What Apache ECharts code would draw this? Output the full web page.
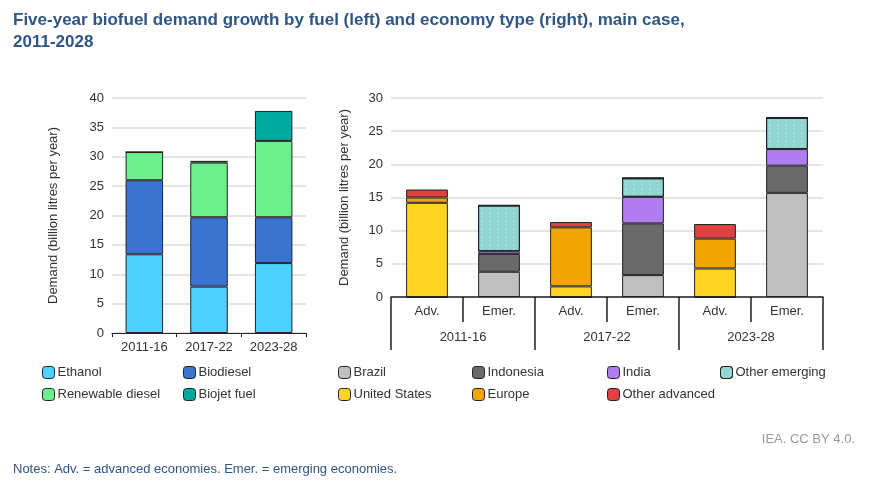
<!DOCTYPE html>
<html><head><meta charset="utf-8">
<script src="https://cdn.jsdelivr.net/npm/echarts@6/dist/echarts.min.js"></script>
<style>html,body{margin:0;background:#fff}#c{width:874px;height:482px}</style>
</head><body><div id="c"></div>
<script>
// left: by fuel
const periods = ['2011-16', '2017-22', '2023-28'];
const ethanol = [13.4, 7.9, 11.9];
const biodiesel = [12.6, 11.8, 7.8];
const renewable = [4.8, 9.3, 13.0];
const biojet = [0, 0.3, 5.1];

// right: by economy type
const econ = ['Adv.', 'Emer.', 'Adv.', 'Emer.', 'Adv.', 'Emer.'];
const brazil = [0, 3.8, 0, 3.3, 0, 15.7];
const indonesia = [0, 2.7, 0, 7.8, 0, 4.1];
const india = [0, 0.4, 0, 4.0, 0, 2.5];
const otherEm = [0, 6.9, 0, 2.8, 0, 4.7];
const us = [14.2, 0, 1.6, 0, 4.3, 0];
const europe = [0.8, 0, 8.9, 0, 4.5, 0];
const otherAdv = [1.2, 0, 0.8, 0, 2.2, 0];

const chart = echarts.init(document.getElementById('c'));
const txt = '#333';
const font = 'Liberation Sans, Arial, sans-serif';
const bord = {borderColor: '#222', borderWidth: 1};

function bar(name, data, color, xi, yi, extra) {
  return {name, type: 'bar', stack: 's' + xi, data, xAxisIndex: xi, yAxisIndex: yi,
    barWidth: '58%',
    itemStyle: Object.assign({color}, bord, extra || {})};
}
const dots = {decal: {symbol: 'circle', color: '#ffffff', symbolSize: 0.5, dashArrayX: [[4, 4]], dashArrayY: [2, 2], rotation: 0}};

const legPos = [
  ['Ethanol', 42, 366], ['Biodiesel', 183, 366], ['Renewable diesel', 42, 388], ['Biojet fuel', 183, 388],
  ['Brazil', 338, 366], ['Indonesia', 472, 366], ['India', 607, 366], ['Other emerging', 720, 366],
  ['United States', 338, 388], ['Europe', 472, 388], ['Other advanced', 607, 388]
];

chart.setOption({
  aria: {enabled: false},
  textStyle: {fontFamily: font},
  title: [
    {text: 'Five-year biofuel demand growth by fuel (left) and economy type (right), main case,\n2011-2028',
      left: 8, top: 4, textStyle: {fontSize: 17, fontWeight: 'bold', color: '#2f5583', lineHeight: 22}},
    {text: 'IEA. CC BY 4.0.', right: 14, top: 428, textStyle: {fontSize: 13, fontWeight: 'normal', color: '#999'}},
    {text: 'Notes: Adv. = advanced economies. Emer. = emerging economies.', left: 8, top: 458,
      textStyle: {fontSize: 13, fontWeight: 'normal', color: '#2f5583'}}
  ],
  legend: legPos.map(([n, x, y]) => ({data: [n], left: x, top: y, itemWidth: 12, itemHeight: 12, padding: 0,
    itemGap: 0, selectedMode: false, textStyle: {fontSize: 13, color: txt, padding: [0, 0, 0, -2]},
    itemStyle: {borderColor: '#222', borderWidth: 1}})),
  grid: [
    {left: 112, top: 98, width: 194, height: 235},
    {left: 391, top: 98, width: 432, height: 199}
  ],
  xAxis: [
    {type: 'category', gridIndex: 0, data: periods,
      axisLine: {lineStyle: {color: '#222'}}, axisTick: {show: true, lineStyle: {color: '#222'}, length: 4},
      axisLabel: {color: txt, fontSize: 13, margin: 8}},
    {type: 'category', gridIndex: 1, data: econ,
      axisLine: {lineStyle: {color: '#222', width: 1.5}},
      axisTick: {show: true, interval: 0, length: 25, lineStyle: {color: '#222', width: 1.5}},
      axisLabel: {color: txt, fontSize: 13, margin: 8, interval: 0}},
    {type: 'category', gridIndex: 1, data: periods, position: 'bottom', offset: 25,
      axisLine: {show: false},
      axisTick: {show: true, interval: 0, length: 28, lineStyle: {color: '#222', width: 1.5}},
      axisLabel: {color: txt, fontSize: 13, margin: 9}}
  ],
  yAxis: [
    {type: 'value', gridIndex: 0, min: 0, max: 40, interval: 5,
      name: 'Demand (billion litres per year)', nameLocation: 'middle', nameGap: 52,
      nameTextStyle: {color: txt, fontSize: 13},
      axisLabel: {color: txt, fontSize: 13}, splitLine: {lineStyle: {color: '#ddd', width: 1.5}}},
    {type: 'value', gridIndex: 1, min: 0, max: 30, interval: 5,
      name: 'Demand (billion litres per year)', nameLocation: 'middle', nameGap: 40,
      nameTextStyle: {color: txt, fontSize: 13},
      axisLabel: {color: txt, fontSize: 13}, splitLine: {lineStyle: {color: '#ddd', width: 1.5}}}
  ],
  series: [
    bar('Ethanol', ethanol, '#4dd2ff', 0, 0),
    bar('Biodiesel', biodiesel, '#3b74d0', 0, 0),
    bar('Renewable diesel', renewable, '#6cef8c', 0, 0),
    bar('Biojet fuel', biojet, '#00a99d', 0, 0),
    bar('Brazil', brazil, '#bfbfbf', 1, 1),
    bar('Indonesia', indonesia, '#6a6a6a', 1, 1),
    bar('India', india, '#b07cf0', 1, 1),
    bar('Other emerging', otherEm, '#8fd6d2', 1, 1, dots),
    bar('United States', us, '#ffd425', 1, 1),
    bar('Europe', europe, '#f2a500', 1, 1),
    bar('Other advanced', otherAdv, '#e0403f', 1, 1)
  ]
});
</script></body></html>
